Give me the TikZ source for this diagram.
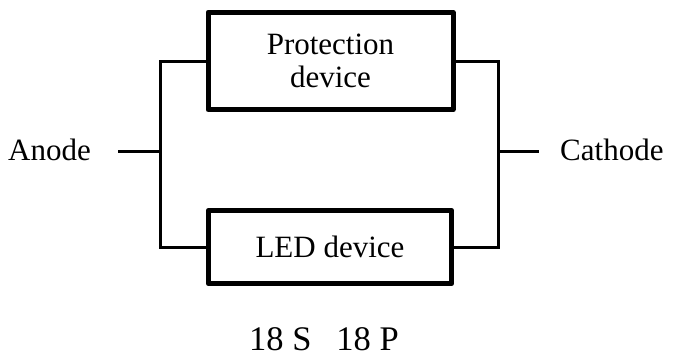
\documentclass[tikz,border=0pt]{standalone}
\usepackage{fontspec}
\setmainfont{Liberation Serif}
\begin{document}
\begin{tikzpicture}[x=1pt,y=-1pt,
  devbox/.style={draw,line width=5pt,line join=round,inner sep=0pt,align=center,
    font=\fontsize{31}{33}\selectfont},
  wire/.style={line width=3pt,line join=miter},
  lbl/.style={inner sep=0pt,font=\fontsize{31}{33}\selectfont}]
\useasboundingbox (0,0) rectangle (678,356);
\node[devbox,minimum width=245pt,minimum height=97.5pt] (top) at (330.5,61) {Protection\\device};
\node[devbox,minimum width=243pt,minimum height=73.5pt] (bot) at (330,247) {LED device};
\coordinate (lt) at (160,61);
\coordinate (lb) at (160,247);
\coordinate (rt) at (498,61);
\coordinate (rb) at (498,247);
\coordinate (jl) at (160,151);
\coordinate (jr) at (498,151);
\coordinate (ae) at (118,151);
\coordinate (ce) at (539,151);
\draw[wire] (top.west) -- (lt) -- (lb) -- (bot.west);
\draw[wire] (top.east) -- (rt) -- (rb) -- (bot.east);
\draw[wire] (ae) -- (jl);
\draw[wire] (jr) -- (ce);
\node[lbl,anchor=base west] (anode) at (8,160.7) {Anode};
\node[lbl,anchor=base west] (cathode) at (560,160.7) {Cathode};
\node[inner sep=0pt,anchor=base west,font=\fontsize{34.5}{36}\selectfont] (sp) at (249,350) {18 S\hspace{25pt}18 P};
\end{tikzpicture}
\end{document}
